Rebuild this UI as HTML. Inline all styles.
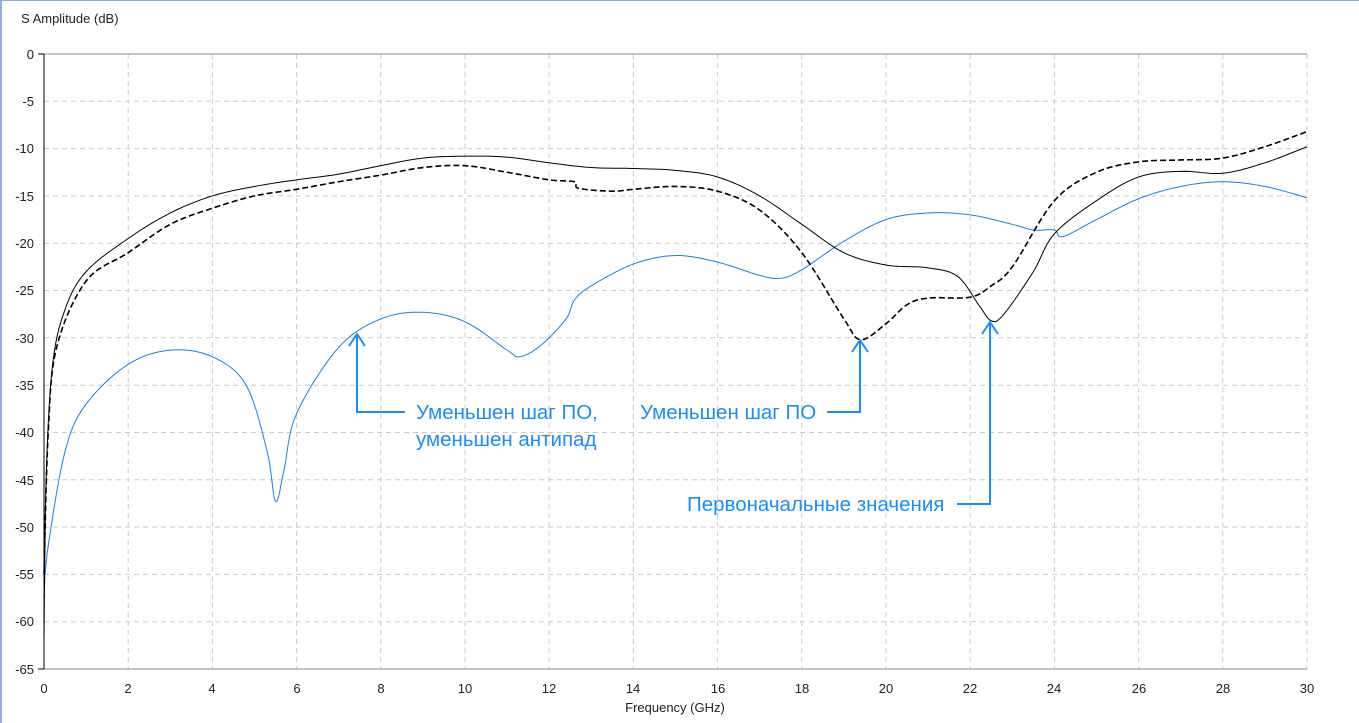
<!DOCTYPE html>
<html><head><meta charset="utf-8"><style>
html,body{margin:0;padding:0;background:#fff;}
svg{display:block;font-family:"Segoe UI","Liberation Sans","DejaVu Sans",sans-serif;}
</style></head><body>
<svg width="1359" height="723" viewBox="0 0 1359 723" xmlns="http://www.w3.org/2000/svg">
<rect x="0" y="0" width="1359" height="723" fill="#fff"/>
<line x1="1" y1="0" x2="1" y2="723" stroke="#8fb0e0" stroke-width="2"/>
<line x1="0" y1="0.5" x2="1359" y2="0.5" stroke="#8fb0e0" stroke-width="1"/>
<text x="21" y="23" font-size="13" fill="#222">S Amplitude (dB)</text>
<g stroke="#ccc" stroke-dasharray="5,4" stroke-width="1">
<line x1="44" x2="1307" y1="101.3" y2="101.3"/><line x1="44" x2="1307" y1="148.6" y2="148.6"/>
<line x1="44" x2="1307" y1="195.9" y2="195.9"/><line x1="44" x2="1307" y1="243.2" y2="243.2"/>
<line x1="44" x2="1307" y1="290.5" y2="290.5"/><line x1="44" x2="1307" y1="337.8" y2="337.8"/>
<line x1="44" x2="1307" y1="385.2" y2="385.2"/><line x1="44" x2="1307" y1="432.5" y2="432.5"/>
<line x1="44" x2="1307" y1="479.8" y2="479.8"/><line x1="44" x2="1307" y1="527.1" y2="527.1"/>
<line x1="44" x2="1307" y1="574.4" y2="574.4"/><line x1="44" x2="1307" y1="621.7" y2="621.7"/>
<line y1="54" y2="669" x1="128.2" x2="128.2"/><line y1="54" y2="669" x1="212.4" x2="212.4"/>
<line y1="54" y2="669" x1="296.6" x2="296.6"/><line y1="54" y2="669" x1="380.8" x2="380.8"/>
<line y1="54" y2="669" x1="465" x2="465"/><line y1="54" y2="669" x1="549.2" x2="549.2"/>
<line y1="54" y2="669" x1="633.4" x2="633.4"/><line y1="54" y2="669" x1="717.6" x2="717.6"/>
<line y1="54" y2="669" x1="801.8" x2="801.8"/><line y1="54" y2="669" x1="886" x2="886"/>
<line y1="54" y2="669" x1="970.2" x2="970.2"/><line y1="54" y2="669" x1="1054.4" x2="1054.4"/>
<line y1="54" y2="669" x1="1138.6" x2="1138.6"/><line y1="54" y2="669" x1="1222.8" x2="1222.8"/>
<line y1="54" y2="669" x1="1307" x2="1307"/>
</g>
<line x1="44" y1="54" x2="1307" y2="54" stroke="#888"/>
<line x1="44" y1="669" x2="1307" y2="669" stroke="#888"/>
<line x1="44" y1="54" x2="44" y2="669" stroke="#000"/>
<g font-size="13" fill="#222" text-anchor="end">
<text x="34" y="59">0</text><text x="34" y="106">-5</text><text x="34" y="153">-10</text><text x="34" y="201">-15</text>
<text x="34" y="248">-20</text><text x="34" y="295">-25</text><text x="34" y="343">-30</text><text x="34" y="390">-35</text>
<text x="34" y="437">-40</text><text x="34" y="485">-45</text><text x="34" y="532">-50</text><text x="34" y="579">-55</text>
<text x="34" y="626">-60</text><text x="34" y="674">-65</text>
</g>
<g stroke="#000"><line x1="38" x2="44" y1="54" y2="54"/><line x1="38" x2="44" y1="669" y2="669"/></g>
<g font-size="13" fill="#222" text-anchor="middle">
<text x="44" y="693">0</text><text x="128" y="693">2</text><text x="212" y="693">4</text><text x="297" y="693">6</text>
<text x="381" y="693">8</text><text x="465" y="693">10</text><text x="549" y="693">12</text><text x="633" y="693">14</text>
<text x="718" y="693">16</text><text x="802" y="693">18</text><text x="886" y="693">20</text><text x="970" y="693">22</text>
<text x="1054" y="693">24</text><text x="1139" y="693">26</text><text x="1223" y="693">28</text><text x="1307" y="693">30</text>
<text x="675" y="712">Frequency (GHz)</text>
</g>
<g transform="translate(44,54) scale(42.1,9.4615)" fill="none" stroke-linejoin="round">
<polyline class="c" vector-effect="non-scaling-stroke" stroke="#1a7fe0" stroke-width="1" points="0,57 0.1,52 0.5,42 1,37 2,32.8 3,31.3 4,32 4.8,35 5.3,42 5.5,47.3 5.7,44 6,38 7,31 8,28 9,27.3 10,28.3 11,31.3 11.3,32 11.8,30.8 12.4,28 12.6,26 13,24.5 14,22.2 15,21.3 16,22 17,23.4 17.5,23.7 18,22.8 19,19.8 20,17.5 21,16.8 22,17 23,18 23.5,18.6 24,18.6 24.2,19.3 25,17.5 26,15.3 27,14 28,13.5 29,14 30,15.2"/>
<polyline class="c" vector-effect="non-scaling-stroke" stroke="#000" stroke-width="1" points="0,62 0.05,45 0.2,33 0.5,27 1,23 2,19.5 3,16.8 4,15 5,14 6,13.3 7,12.7 8,11.8 9,11 10,10.8 11,10.9 12,11.5 13,12 14,12.1 15,12.3 16,13 17,15 18,18 19,21 20,22.3 21,22.6 21.7,23.5 22.2,26.5 22.5,28.2 22.8,27.5 23.5,23 24,19 25,15.5 26,13 27,12.4 28,12.6 29,11.5 30,9.8"/>
<polyline class="c" vector-effect="non-scaling-stroke" stroke="#000" stroke-width="1.6" stroke-dasharray="6,3" points="0,55 0.1,40 0.3,31 1,24 2,21 3,18 4,16.3 5,15 6,14.3 7,13.5 8,12.8 9,12 10,11.8 11,12.5 12,13.3 12.6,13.5 12.7,14.2 13.5,14.5 14,14.3 15,14 16,14.5 17,16.5 18,21 19,28 19.4,30.2 20,28.5 20.5,26.5 21,25.8 22,25.7 22.5,24.5 23,22.5 24,15.5 25,12.5 26,11.4 27,11.2 28,11 29,9.8 30,8.2"/>
</g>
<g stroke="#1a8cff" stroke-width="2" fill="none">
<polyline points="405,412 357,412 357,334"/>
<polyline points="349,346 357,334 365,346"/>
<polyline points="827,412 860,412 860,340"/>
<polyline points="852,352 860,340 868,352"/>
<polyline points="957,504 990,504 990,322"/>
<polyline points="982,334 990,322 998,334"/>
</g>
<g font-size="20.5" fill="#1a8cff">
<text x="416" y="419">Уменьшен шаг ПО,</text>
<text x="416" y="446">уменьшен антипад</text>
<text x="640" y="419">Уменьшен шаг ПО</text>
<text x="687" y="511">Первоначальные значения</text>
</g>
</svg>
<script>
document.querySelectorAll('polyline.c').forEach(function(pl){
  var p=pl.getAttribute('points').trim().split(/\s+/).map(function(s){return s.split(',').map(Number);});
  var out=[];
  for(var i=0;i<p.length-1;i++){
    var p0=p[Math.max(0,i-1)],p1=p[i],p2=p[i+1],p3=p[Math.min(p.length-1,i+2)];
    for(var k=0;k<10;k++){
      var t=k/10,t2=t*t,t3=t2*t;
      var f=function(a,b,c,d){return 0.5*((2*b)+(-a+c)*t+(2*a-5*b+4*c-d)*t2+(-a+3*b-3*c+d)*t3);};
      out.push(f(p0[0],p1[0],p2[0],p3[0]).toFixed(4)+','+f(p0[1],p1[1],p2[1],p3[1]).toFixed(4));
    }
  }
  out.push(p[p.length-1].join(','));
  pl.setAttribute('points',out.join(' '));
});
</script>
</body></html>
